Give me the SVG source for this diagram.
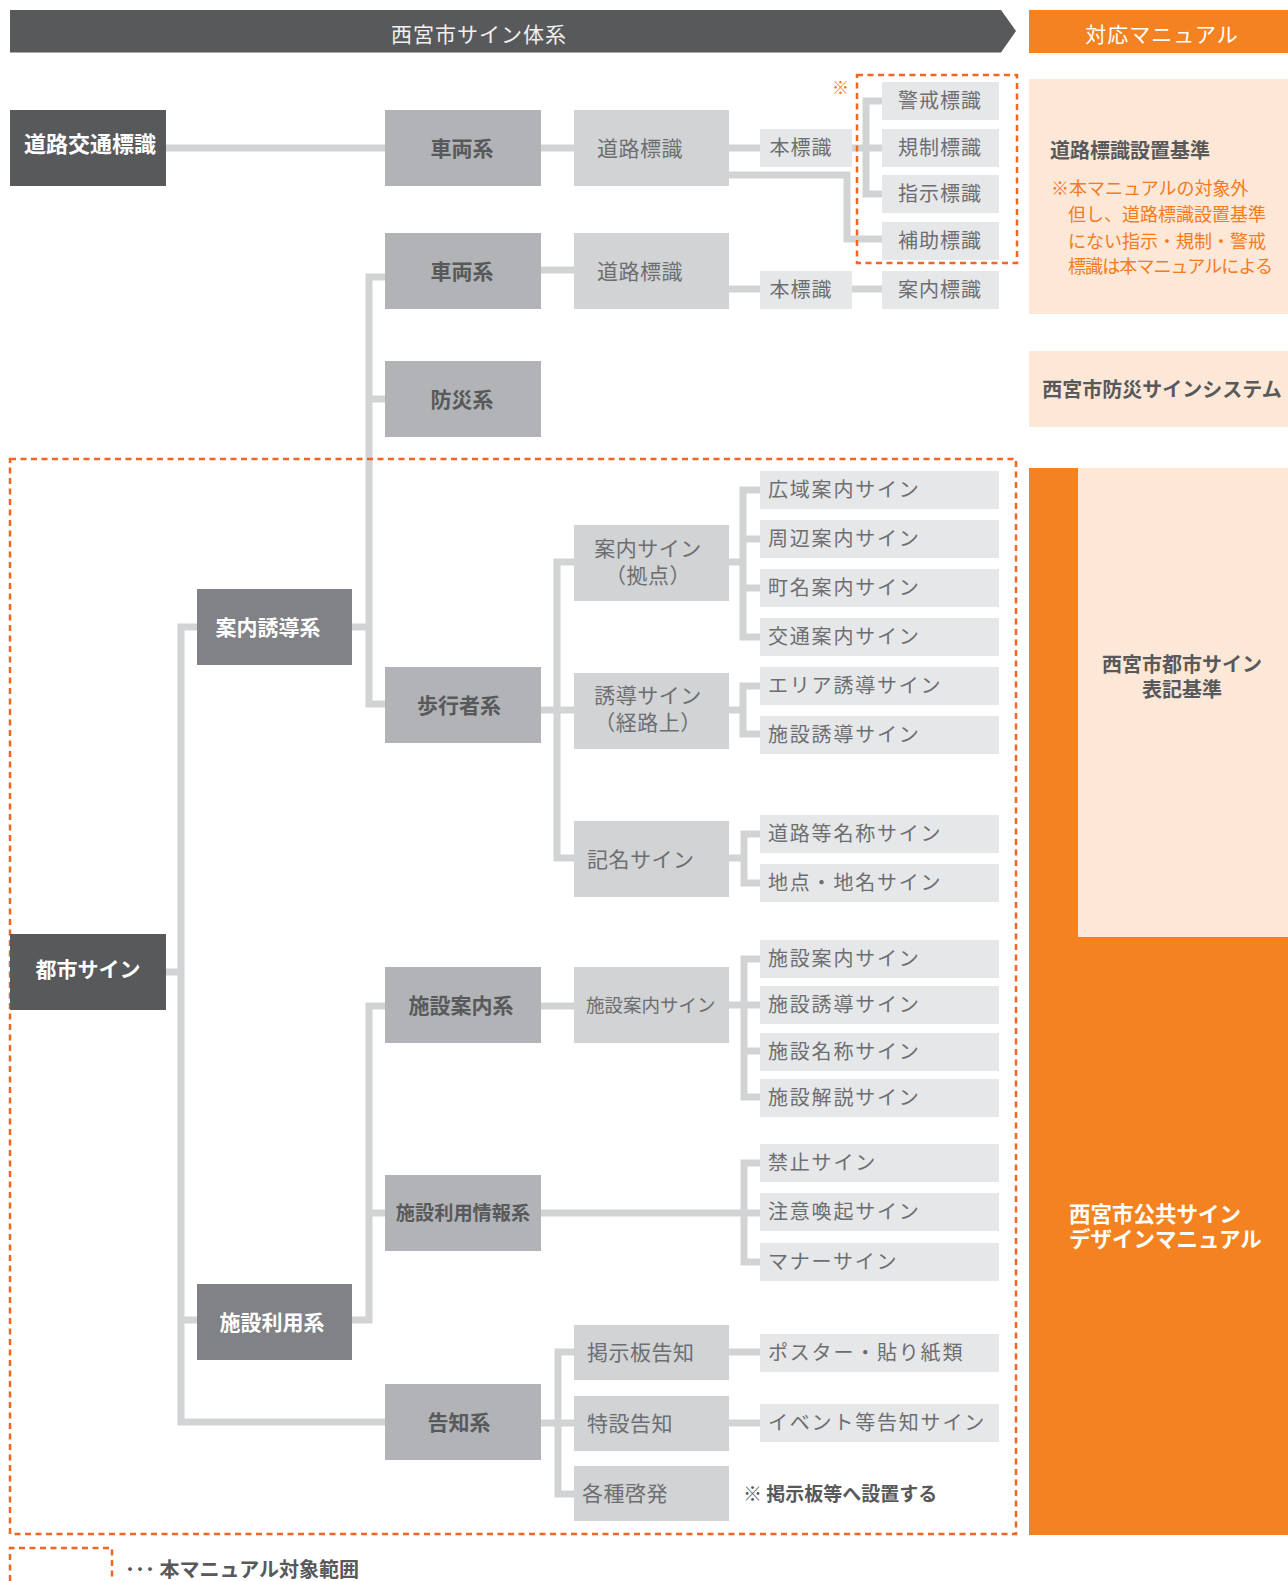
<svg xmlns="http://www.w3.org/2000/svg" width="1288" height="1581" viewBox="0 0 1288 1581">
<style>
text{font-family:"Noto Sans CJK JP","Noto Sans",sans-serif}
.c1{fill:#58595b}.c2{fill:#808285}.c3{fill:#b1b3b6}.c4{fill:#d1d3d4}.c5{fill:#e6e7e8}
.tw{font-size:21px;font-weight:bold;fill:#fff;text-anchor:middle}
.t3{font-size:21px;font-weight:bold;fill:#58595b;text-anchor:middle}
.t4{font-size:21px;fill:#6d6e71;letter-spacing:0.5px}
.t5{font-size:20px;fill:#6d6e71;letter-spacing:1.8px}
.tm{text-anchor:middle}
.conn{stroke:#d1d3d4;stroke-width:7;fill:none}
.dash{stroke:#f26522;stroke-width:2.5;stroke-dasharray:6 4.5;fill:none}
.peach{fill:#fde7d6}.orange{fill:#f48221}
.pt{font-size:20px;font-weight:bold;fill:#58595b}
.ot{font-size:18px;fill:#f47b20}
</style>

<!-- header -->
<g id="header">
<polygon points="10,10 1001,10 1016,31 1001,52.5 10,52.5" fill="#58595b"/>
<text x="479" y="42" font-size="21" fill="#f0f0f0" text-anchor="middle" letter-spacing="1">西宮市サイン体系</text>
</g>
<g id="manual-header">
<rect x="1029" y="10" width="259" height="43" class="orange"/>
<text x="1162" y="42" font-size="21" fill="#fff" text-anchor="middle" letter-spacing="1">対応マニュアル</text>
</g>

<!-- right panels -->
<g id="panel-road">
<rect x="1029" y="79" width="259" height="235" class="peach"/>
<text x="1050" y="158" class="pt">道路標識設置基準</text>
<text class="ot"><tspan x="1051" y="195">※本マニュアルの対象外</tspan><tspan x="1068" y="221">但し、道路標識設置基準</tspan><tspan x="1068" y="248">にない指示・規制・警戒</tspan><tspan x="1068" y="273" letter-spacing="-0.9">標識は本マニュアルによる</tspan></text>
</g>
<g id="panel-disaster">
<rect x="1029" y="351" width="259" height="76" class="peach"/>
<text x="1162" y="397" class="pt tm">西宮市防災サインシステム</text>
</g>
<g id="panel-public">
<rect x="1029" y="468" width="259" height="1067" class="orange"/>
<text font-size="21.5" font-weight="bold" fill="#fff"><tspan x="1069" y="1222">西宮市公共サイン</tspan><tspan x="1069" y="1247">デザインマニュアル</tspan></text>
</g>
<g id="panel-city">
<rect x="1078" y="468" width="210" height="469" class="peach"/>
<text class="pt tm"><tspan x="1182" y="672">西宮市都市サイン</tspan><tspan x="1182" y="697">表記基準</tspan></text>
</g>

<!-- connectors -->
<g id="connectors">
<path class="conn" d="M166,148H385M541,148H574M729,148H760M852,148H882"/>
<path class="conn" d="M882,101H866V194H882"/>
<path class="conn" d="M729,175H847V239H882"/>
<path class="conn" d="M541,270H574M729,289H760M852,289H882"/>
<path class="conn" d="M385,277H369V704H385M369,399H385M352,627H369"/>
<path class="conn" d="M197,627H181V1422H385M166,972H181M181,1320H197"/>
<path class="conn" d="M352,1320H369V1006H385M369,1213H385"/>
<path class="conn" d="M541,1006H574"/>
<path class="conn" d="M574,562H557V858H574M541,710H574"/>
<path class="conn" d="M729,562H743M760,490H743V637H760M743,539H760M743,588H760"/>
<path class="conn" d="M729,710H743M760,686H743V734H760"/>
<path class="conn" d="M729,858H744M760,834H744V883H760"/>
<path class="conn" d="M729,1005H760M760,959H744V1097H760M744,1051H760"/>
<path class="conn" d="M541,1213H760M760,1163H744V1262H760"/>
<path class="conn" d="M541,1423H574M574,1352H558V1494H574"/>
<path class="conn" d="M729,1352H760M729,1423H760"/>
</g>

<!-- dashed scope -->
<g id="scope">
<rect x="857" y="75" width="160" height="188" class="dash"/>
<text x="832" y="94" font-size="17" fill="#f47b20">※</text>
<rect x="10" y="459" width="1006" height="1075" class="dash"/>
</g>

<!-- column 1 -->
<g id="n-road-traffic"><rect x="10" y="110" width="156" height="76" class="c1"/><text x="90" y="152" class="tw" style="font-size:22px">道路交通標識</text></g>
<g id="n-city-sign"><rect x="10" y="934" width="156" height="76" class="c1"/><text x="88" y="977" class="tw">都市サイン</text></g>

<!-- column 2 -->
<g id="n-guide"><rect x="197" y="589" width="155" height="76" class="c2"/><text x="268" y="635" class="tw">案内誘導系</text></g>
<g id="n-facility-use"><rect x="197" y="1284" width="155" height="76" class="c2"/><text x="272" y="1330" class="tw">施設利用系</text></g>

<!-- column 3 -->
<g id="n-vehicle1"><rect x="385" y="110" width="156" height="76" class="c3"/><text x="462" y="156" class="t3">車両系</text></g>
<g id="n-vehicle2"><rect x="385" y="233" width="156" height="76" class="c3"/><text x="462" y="279" class="t3">車両系</text></g>
<g id="n-disaster"><rect x="385" y="361" width="156" height="76" class="c3"/><text x="462" y="407" class="t3">防災系</text></g>
<g id="n-pedestrian"><rect x="385" y="667" width="156" height="76" class="c3"/><text x="459" y="713" class="t3">歩行者系</text></g>
<g id="n-fac-guide"><rect x="385" y="967" width="156" height="76" class="c3"/><text x="461" y="1013" class="t3">施設案内系</text></g>
<g id="n-fac-info"><rect x="385" y="1175" width="156" height="76" class="c3"/><text x="463" y="1220" class="t3" style="font-size:19.2px">施設利用情報系</text></g>
<g id="n-notice"><rect x="385" y="1384" width="156" height="76" class="c3"/><text x="459" y="1430" class="t3">告知系</text></g>

<!-- column 4 -->
<g id="n-roadsign1"><rect x="574" y="110" width="155" height="76" class="c4"/><text x="597" y="156" class="t4">道路標識</text></g>
<g id="n-roadsign2"><rect x="574" y="233" width="155" height="76" class="c4"/><text x="597" y="279" class="t4">道路標識</text></g>
<g id="n-annai"><rect x="574" y="525" width="155" height="76" class="c4"/><text x="648" y="556" class="t4 tm">案内サイン</text><text x="648" y="583" class="t4 tm">（拠点）</text></g>
<g id="n-yudo"><rect x="574" y="673" width="155" height="76" class="c4"/><text x="648" y="703" class="t4 tm">誘導サイン</text><text x="648" y="730" class="t4 tm">（経路上）</text></g>
<g id="n-kimei"><rect x="574" y="821" width="155" height="76" class="c4"/><text x="587" y="867" class="t4">記名サイン</text></g>
<g id="n-fac-sign"><rect x="574" y="967" width="155" height="76" class="c4"/><text x="586" y="1012" class="t4" style="font-size:18.5px;letter-spacing:0">施設案内サイン</text></g>
<g id="n-keiji"><rect x="574" y="1325" width="155" height="55" class="c4"/><text x="587" y="1360" class="t4">掲示板告知</text></g>
<g id="n-tokusetsu"><rect x="574" y="1396" width="155" height="55" class="c4"/><text x="587" y="1431" class="t4">特設告知</text></g>
<g id="n-keihatsu"><rect x="574" y="1466" width="155" height="55" class="c4"/><text x="582" y="1501" class="t4">各種啓発</text></g>

<!-- column 5 upper -->
<g id="n-hon1"><rect x="760" y="129" width="92" height="38" class="c5"/><text x="801" y="155" class="t5 tm" style="letter-spacing:1px">本標識</text></g>
<g id="n-hon2"><rect x="760" y="271" width="92" height="38" class="c5"/><text x="801" y="297" class="t5 tm" style="letter-spacing:1px">本標識</text></g>
<g id="n-keikai"><rect x="882" y="82" width="117" height="38" class="c5"/><text x="940" y="108" class="t5 tm" style="letter-spacing:1px">警戒標識</text></g>
<g id="n-kisei"><rect x="882" y="129" width="117" height="38" class="c5"/><text x="940" y="155" class="t5 tm" style="letter-spacing:1px">規制標識</text></g>
<g id="n-shiji"><rect x="882" y="175" width="117" height="38" class="c5"/><text x="940" y="201" class="t5 tm" style="letter-spacing:1px">指示標識</text></g>
<g id="n-hojo"><rect x="882" y="222" width="117" height="38" class="c5"/><text x="940" y="248" class="t5 tm" style="letter-spacing:1px">補助標識</text></g>
<g id="n-annaihyoshiki"><rect x="882" y="271" width="117" height="38" class="c5"/><text x="940" y="297" class="t5 tm" style="letter-spacing:1px">案内標識</text></g>

<!-- column 5 lower -->
<g id="n-kouiki"><rect x="760" y="471" width="239" height="38" class="c5"/><text x="768" y="497" class="t5">広域案内サイン</text></g>
<g id="n-shuhen"><rect x="760" y="520" width="239" height="38" class="c5"/><text x="768" y="546" class="t5">周辺案内サイン</text></g>
<g id="n-chomei"><rect x="760" y="569" width="239" height="38" class="c5"/><text x="768" y="595" class="t5">町名案内サイン</text></g>
<g id="n-kotsu"><rect x="760" y="618" width="239" height="38" class="c5"/><text x="768" y="644" class="t5">交通案内サイン</text></g>
<g id="n-area"><rect x="760" y="667" width="239" height="38" class="c5"/><text x="768" y="693" class="t5">エリア誘導サイン</text></g>
<g id="n-shisetsu-yudo1"><rect x="760" y="716" width="239" height="38" class="c5"/><text x="768" y="742" class="t5">施設誘導サイン</text></g>
<g id="n-dorotou"><rect x="760" y="815" width="239" height="38" class="c5"/><text x="768" y="841" class="t5">道路等名称サイン</text></g>
<g id="n-chiten"><rect x="760" y="864" width="239" height="38" class="c5"/><text x="768" y="890" class="t5">地点・地名サイン</text></g>
<g id="n-shisetsu-annai"><rect x="760" y="940" width="239" height="38" class="c5"/><text x="768" y="966" class="t5">施設案内サイン</text></g>
<g id="n-shisetsu-yudo2"><rect x="760" y="986" width="239" height="38" class="c5"/><text x="768" y="1012" class="t5">施設誘導サイン</text></g>
<g id="n-shisetsu-meisho"><rect x="760" y="1033" width="239" height="38" class="c5"/><text x="768" y="1059" class="t5">施設名称サイン</text></g>
<g id="n-shisetsu-kaisetsu"><rect x="760" y="1079" width="239" height="38" class="c5"/><text x="768" y="1105" class="t5">施設解説サイン</text></g>
<g id="n-kinshi"><rect x="760" y="1144" width="239" height="38" class="c5"/><text x="768" y="1170" class="t5">禁止サイン</text></g>
<g id="n-chui"><rect x="760" y="1193" width="239" height="38" class="c5"/><text x="768" y="1219" class="t5">注意喚起サイン</text></g>
<g id="n-manner"><rect x="760" y="1243" width="239" height="38" class="c5"/><text x="768" y="1269" class="t5">マナーサイン</text></g>
<g id="n-poster"><rect x="760" y="1334" width="239" height="38" class="c5"/><text x="768" y="1360" class="t5">ポスター・貼り紙類</text></g>
<g id="n-event"><rect x="760" y="1404" width="239" height="38" class="c5"/><text x="768" y="1430" class="t5">イベント等告知サイン</text></g>
<g id="note-keiji"><text x="743" y="1501" font-size="19" font-weight="bold" fill="#58595b">※ 掲示板等へ設置する</text></g>

<!-- legend -->
<g id="legend">
<path class="dash" d="M10,1581V1548H112V1581"/>
<text x="125" y="1577" font-size="20" font-weight="bold" fill="#58595b">･･･ 本マニュアル対象範囲</text>
</g>
</svg>
